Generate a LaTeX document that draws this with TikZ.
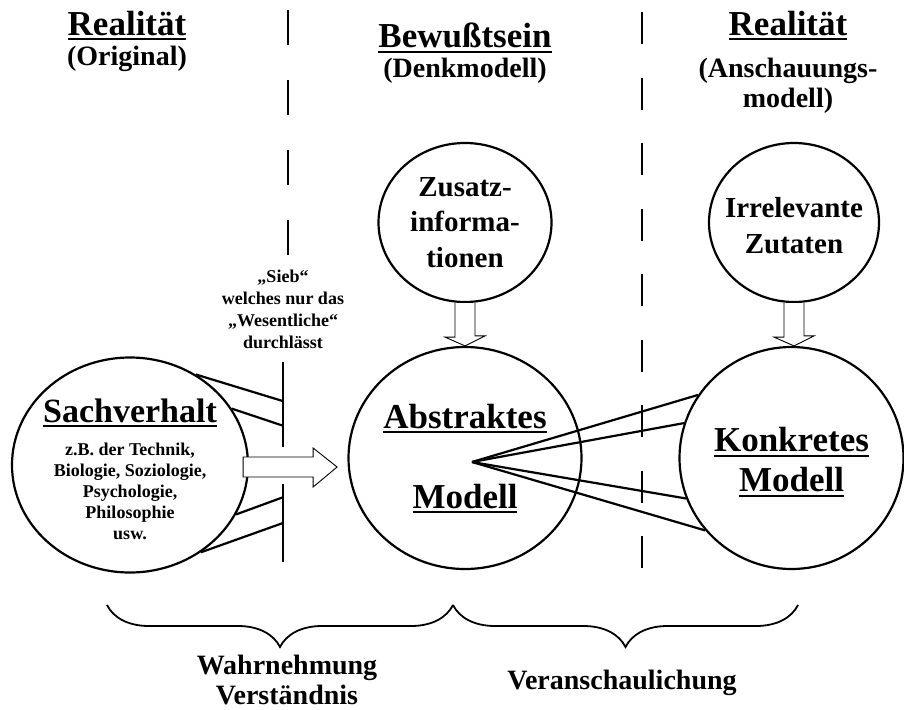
\documentclass[tikz,border=0pt]{standalone}
\usepackage{fontspec}
\setmainfont{Liberation Serif}
\usetikzlibrary{shapes.geometric,calc,decorations.pathreplacing}

\newcommand{\ulword}[1]{\setbox0=\hbox{#1}\rlap{\rule[-5pt]{\wd0}{2pt}}\box0}

\begin{document}
\begin{tikzpicture}[
	x=1pt,y=-1pt,
	bubble/.style={draw,ellipse,line width=2.2pt,inner sep=0pt},
	txt/.style={align=center,inner sep=0pt},
	hollow/.style={draw,fill=white,line width=0.9pt,line join=miter},
	wire/.style={line width=2.2pt},
	sep/.style={line width=2.8pt},
	brace/.style={decorate,decoration={brace,mirror,amplitude=42pt},line width=1.8pt},
	bigfont/.style={font=\fontsize{35}{40}\selectfont\bfseries},
	midfont/.style={font=\fontsize{29}{35.5}\selectfont\bfseries},
	subfont/.style={font=\fontsize{28}{30}\selectfont\bfseries},
	smallfont/.style={font=\fontsize{18}{21}\selectfont\bfseries}
	]
	\useasboundingbox (0,0) rectangle (904,709);
	
	% Ueberschriften
	\node[txt,subfont,anchor=north] (hdrL) at (127,11) {{\fontsize{35}{35}\selectfont\ulword{Realität}}\\(Original)};
	\node[txt,subfont,anchor=north] (hdrM) at (465,23) {{\fontsize{35}{35}\selectfont\ulword{Bewußtsein}}\\(Denkmodell)};
	\node[txt,subfont,anchor=north] (hdrR) at (788,11) {{\fontsize{35}{35}\selectfont\ulword{Realität}}\\[12pt](Anschauungs-\\modell)};
	
	% Trennlinien
	\draw[sep,dash pattern=on 35pt off 35pt] (288,10) -- (288,255);
	\draw[sep,dash pattern=on 32pt off 33.5pt] (642,12) -- (642,568);
	
	% Kreise
	\node[bubble,minimum width=236,minimum height=215] (sach) at (130,465) {};
	\node[bubble,minimum width=233,minimum height=222] (abs) at (465,458) {};
	\node[bubble,minimum width=224,minimum height=222] (konk) at (791.5,458) {};
	\node[bubble,minimum width=173,minimum height=159] (zus) at (465,222.5) {};
	\node[bubble,minimum width=170,minimum height=159] (irr) at (794,222.5) {};
	
	% Texte in den Kreisen
	\node[txt,smallfont] (sachtxt) at (130,469) {{\fontsize{34}{34}\selectfont\ulword{Sachverhalt}}\\[12pt]z.B. der Technik,\\Biologie, Soziologie,\\Psychologie,\\Philosophie\\usw.};
	\node[txt,bigfont] (abstxt) at (465,458.5) {\ulword{Abstraktes}\\[40pt]\ulword{Modell}};
	\node[txt,bigfont] (konktxt) at (791.5,462) {\ulword{Konkretes}\\\ulword{Modell}};
	\node[txt,midfont] (zustxt) at (465,222.5) {Zusatz-\\informa-\\tionen};
	\node[txt,midfont] (irrtxt) at (794,225.5) {Irrelevante\\Zutaten};
	
	% Sieb
	\node[txt,font=\fontsize{18}{22}\selectfont\bfseries] (siebtxt) at (283,309.5) {„Sieb“\\welches nur das\\„Wesentliche“\\durchlässt};
	\coordinate (barAtop) at (283,362);
	\coordinate (barAbot) at (283,447);
	\coordinate (barBtop) at (283,484);
	\coordinate (barBbot) at (283,562);
	\draw[wire] (barAtop) -- (barAbot);
	\draw[wire] (barBtop) -- (barBbot);
	\draw[wire] (sach.54) -- ($(barAtop)!.46!(barAbot)$);
	\draw[wire] (sach.29) -- ($(barAtop)!.75!(barAbot)$);
	\draw[wire] (sach.-25) -- ($(barBtop)!.17!(barBbot)$);
	\draw[wire] (sach.-51) -- ($(barBtop)!.5!(barBbot)$);
	
	% Blockpfeile
	\draw[hollow] ([shift={(-6,-8)}]sach.east) -- ++(70,0) -- ++(0,-9) -- ++(24,19) -- ++(-24,20) -- ++(0,-10) -- ++(-70,0) -- cycle;
	\draw[hollow] ([xshift=-10]zus.south) -- ++(0,34) -- ++(-10,0) -- (abs.north) -- ++(20,-10) -- ++(-10,0) -- ([xshift=10]zus.south);
	\draw[hollow] ([xshift=-10]irr.south) -- ++(0,34) -- ++(-10,0) -- ([xshift=2.5]konk.north) -- ++(20,-10) -- ++(-10,0) -- ([xshift=10]irr.south);
	
	% Veranschaulichung
	\coordinate (fan) at (472,462);
	\foreach \a in {146,162,201,220}
		\draw[wire] (fan) -- (konk.\a);
	
	% Klammern
	\draw[brace] (107,605) -- (453,605);
	\draw[brace] (453,605) -- (798,605);
	\node[txt,subfont] (wahr) at (287,679.5) {Wahrnehmung\\Verständnis};
	\node[txt,subfont,anchor=base] (veran) at (622,689) {Veranschaulichung};
	
\end{tikzpicture}
\end{document}
